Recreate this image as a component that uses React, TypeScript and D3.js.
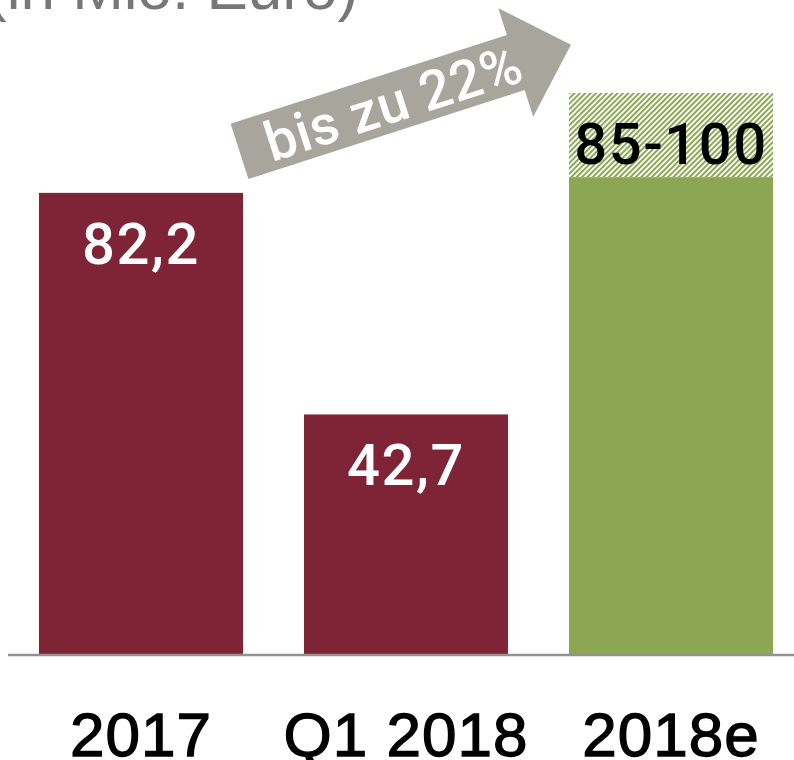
import { useEffect, useRef } from 'react'
import * as d3 from 'd3'

const WIDTH = 794
const HEIGHT = 760

const CATEGORIES = ['2017', 'Q1 2018', '2018e']
const VALUES = [82.2, 42.7, 85]
const RANGE_TOP = [null, null, 100]
const VALUE_LABELS = ['82,2', '42,7', '85-100']
const BAR_COLORS = ['#7f2437', '#7f2437', '#8da653']
const LABEL_COLORS = ['#ffffff', '#ffffff', '#000000']

const TITLE = '(in Mio. Euro)'
const ARROW_TEXT = 'bis zu 22%'
// arrow runs from the 2017 bar's right edge to the 2018e bar's left edge
const ARROW_FROM = 89.6
const ARROW_TO = 108.6

export default function App() {
  const svgRef = useRef<SVGSVGElement>(null)

  useEffect(() => {
    if (!svgRef.current) return
    const svg = d3.select(svgRef.current)
    svg.selectAll('*').remove()

    const x = d3.scaleBand().domain(CATEGORIES).range([8.5, 803.5]).paddingInner(0.23).paddingOuter(0.115)
    const y = d3.scaleLinear().domain([0, 100]).range([654, 93])

    const defs = svg.append('defs')
    const pat = defs.append('pattern')
      .attr('id', 'hatch')
      .attr('patternUnits', 'userSpaceOnUse')
      .attr('width', 3.8).attr('height', 3.8)
      .attr('patternTransform', 'rotate(45)')
    pat.append('rect').attr('width', 3.8).attr('height', 3.8).attr('fill', '#ffffff')
    pat.append('rect').attr('width', 2).attr('height', 3.8).attr('fill', '#8da653')

    // title, partly cut off at the top
    svg.append('text')
      .attr('x', -14).attr('y', 9)
      .attr('font-family', '"Liberation Sans", Arial, sans-serif')
      .attr('font-size', 62).attr('fill', '#777777')
      .text(TITLE)

    // range part (hatched)
    CATEGORIES.forEach((c, i) => {
      const top = RANGE_TOP[i]
      if (top == null) return
      svg.append('rect')
        .attr('x', x(c)!).attr('y', y(top))
        .attr('width', x.bandwidth()).attr('height', y(VALUES[i]) - y(top))
        .attr('fill', 'url(#hatch)')
    })

    svg.selectAll('.bar')
      .data(CATEGORIES)
      .join('rect')
      .attr('class', 'bar')
      .attr('x', (c) => x(c)!)
      .attr('y', (_, i) => y(VALUES[i]))
      .attr('width', x.bandwidth())
      .attr('height', (_, i) => y(0) - y(VALUES[i]))
      .attr('fill', (_, i) => BAR_COLORS[i])

    // value labels
    CATEGORIES.forEach((c, i) => {
      const top = RANGE_TOP[i] ?? VALUES[i]
      svg.append('text')
        .attr('x', x(c)! + x.bandwidth() / 2)
        .attr('y', y(top) + 71)
        .attr('text-anchor', 'middle')
        .attr('font-family', 'Roboto, sans-serif')
        .attr('font-weight', 500)
        .attr('letter-spacing', 1.5)
        .attr('font-size', 58)
        .attr('fill', LABEL_COLORS[i])
        .text(VALUE_LABELS[i])
    })

    // baseline
    svg.append('line')
      .attr('x1', 8).attr('x2', WIDTH)
      .attr('y1', y(0) + 1).attr('y2', y(0) + 1)
      .attr('stroke', '#929292').attr('stroke-width', 2.5)

    // category labels
    svg.selectAll('.cat')
      .data(CATEGORIES)
      .join('text')
      .attr('class', 'cat')
      .attr('x', (c) => x(c)! + x.bandwidth() / 2)
      .attr('y', 756)
      .attr('text-anchor', 'middle')
      .attr('font-family', '"Liberation Sans", Arial, sans-serif')
      .attr('font-size', 62)
      .attr('letter-spacing', 1)
      .attr('fill', '#000000')
      .attr('stroke', '#000000')
      .attr('stroke-width', 1.3)
      .text((c) => c)

    // growth arrow
    const x0 = x(CATEGORIES[0])! + x.bandwidth() - 3.5
    const y0 = y(ARROW_FROM)
    const x1 = x(CATEGORIES[2])! + 2
    const y1 = y(ARROW_TO)
    const len = Math.hypot(x1 - x0, y1 - y0)
    const ang = (Math.atan2(y1 - y0, x1 - x0) * 180) / Math.PI
    const shaftW = 29
    const headW = 57
    const headL = 58
    const g = svg.append('g').attr('transform', `translate(${x0},${y0}) rotate(${ang})`)
    g.append('path')
      .attr('d', `M0,${-shaftW}L${len - headL},${-shaftW}L${len - headL},${-headW}L${len},0L${len - headL},${headW}L${len - headL},${shaftW}L0,${shaftW}Z`)
      .attr('fill', '#a8a59d')
    g.append('text')
      .attr('x', (len - headL) / 2 + 16)
      .attr('y', 20)
      .attr('text-anchor', 'middle')
      .attr('font-family', 'Roboto, sans-serif')
      .attr('font-weight', 500)
      .attr('font-size', 55)
      .attr('letter-spacing', 0.5)
      .attr('fill', '#ffffff')
      .text(ARROW_TEXT)
  }, [])

  return (
    <svg
      ref={svgRef}
      width={WIDTH}
      height={HEIGHT}
      style={{ position: 'absolute', left: 0, top: 0, background: '#ffffff' }}
    />
  )
}
